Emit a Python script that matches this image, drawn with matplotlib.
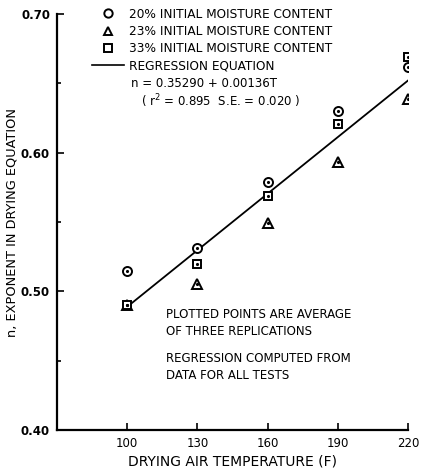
import matplotlib
matplotlib.use("Agg")
import matplotlib.pyplot as plt
import numpy as np
from matplotlib.lines import Line2D

temps = [100, 130, 160, 190, 220]
n_20 = [0.515, 0.531, 0.579, 0.630, 0.662]
n_23 = [0.490, 0.505, 0.549, 0.593, 0.639]
n_33 = [0.490, 0.520, 0.569, 0.621, 0.669]

intercept = 0.35290
slope = 0.00136
reg_t = np.array([100, 220])
reg_n = intercept + slope * reg_t

plt.rcParams['font.family'] = 'DejaVu Sans'

fig = plt.figure(figsize=(4.22, 4.68), dpi=100)
ax = fig.add_axes([0.135, 0.081, 0.832, 0.889])

def dotted(x, y, marker, size):
    ax.plot(x, y, linestyle='none', marker=marker, ms=size, mfc='white',
            mec='black', mew=1.4, zorder=3)
    ax.plot(x, y, linestyle='none', marker='.', ms=2.5, color='black', zorder=4)

dotted(temps, n_20, 'o', 6.5)
dotted(temps, n_23, '^', 6.5)
dotted(temps, n_33, 's', 6)
ax.plot(reg_t, reg_n, color='black', lw=1.3, zorder=2)

ax.set_xlim(70, 220)
ax.set_ylim(0.40, 0.70)
ax.set_xticks(temps)
ax.set_xticklabels(['100', '130', '160', '190', '220'])
ax.set_yticks([0.40, 0.50, 0.60, 0.70])
ax.set_yticklabels(['0.40', '0.50', '0.60', '0.70'], fontweight='bold')
ax.set_yticks([0.45, 0.55, 0.65], minor=True)
ax.tick_params(direction='in', length=5, width=1.2, labelsize=8.5)
ax.tick_params(which='minor', direction='in', length=3, width=1.2)
ax.tick_params(axis='y', pad=5)
ax.tick_params(axis='x', pad=5)

for s in ['top', 'right']:
    ax.spines[s].set_visible(False)
for s in ['left', 'bottom']:
    ax.spines[s].set_linewidth(1.6)

ax.set_xlabel('DRYING AIR TEMPERATURE (F)', fontsize=10, labelpad=3)
ax.set_ylabel('n, EXPONENT IN DRYING EQUATION', fontsize=9.3, labelpad=2)

handles = [
    Line2D([], [], linestyle='none', marker='o', ms=6, mfc='white', mec='black', mew=1.4),
    Line2D([], [], linestyle='none', marker='^', ms=6, mfc='white', mec='black', mew=1.4),
    Line2D([], [], linestyle='none', marker='s', ms=5.5, mfc='white', mec='black', mew=1.4),
    Line2D([], [], color='black', lw=1.2),
]
labels = ['20% INITIAL MOISTURE CONTENT', '23% INITIAL MOISTURE CONTENT',
          '33% INITIAL MOISTURE CONTENT', 'REGRESSION EQUATION']
ax.legend(handles, labels, loc='upper left', bbox_to_anchor=(0.085, 1.027),
          frameon=False, fontsize=8.7, handlelength=2.65, handletextpad=0.4,
          labelspacing=0.36, borderaxespad=0)

ax.text(0.21, 0.834, 'n = 0.35290 + 0.00136T', transform=ax.transAxes,
        fontsize=8.5, va='center')
ax.text(0.238, 0.790, '( r$^2$ = 0.895  S.E. = 0.020 )', transform=ax.transAxes,
        fontsize=8.5, va='center')

ax.text(116.5, 0.488, 'PLOTTED POINTS ARE AVERAGE\nOF THREE REPLICATIONS',
        fontsize=8.5, va='top', linespacing=1.4)
ax.text(116.5, 0.456, 'REGRESSION COMPUTED FROM\nDATA FOR ALL TESTS',
        fontsize=8.5, va='top', linespacing=1.4)

fig.savefig('out.png', dpi=100)
